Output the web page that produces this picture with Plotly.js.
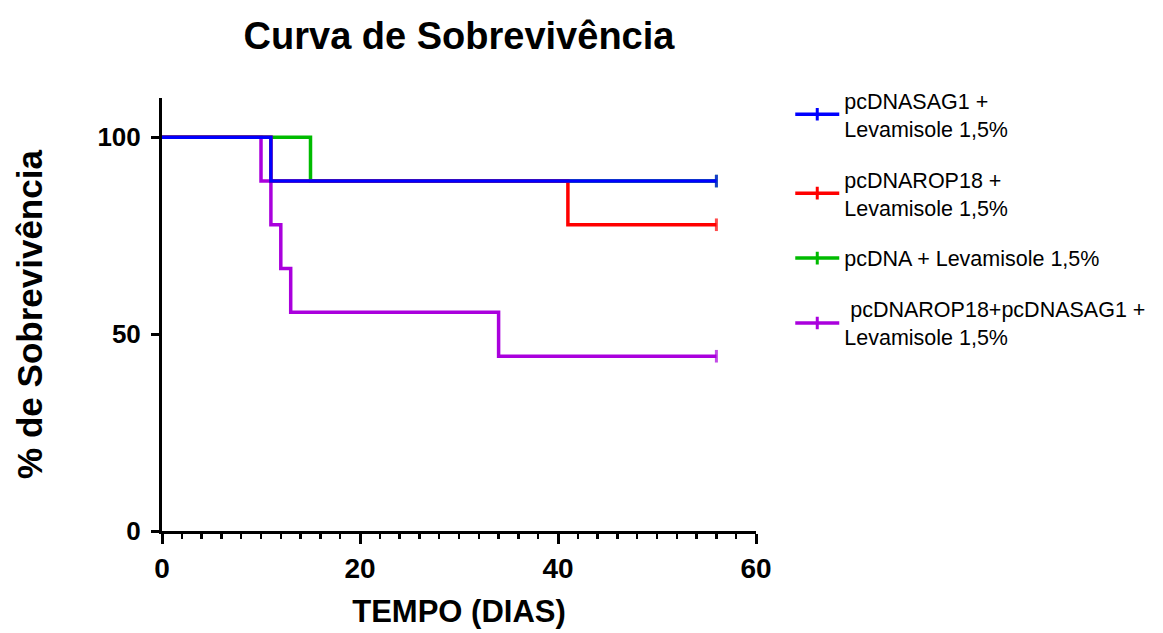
<!DOCTYPE html>
<html>
<head>
<meta charset="utf-8">
<script src="https://cdn.plot.ly/plotly-3.0.1.min.js"></script>
<style>html,body{margin:0;padding:0;background:#fff;}#chart{width:1163px;height:633px;}</style>
</head>
<body>
<div id="chart"></div>
<script>
// Kaplan-Meier step data (days, % survival)
const seriesNames = ["pcDNASAG1 +<br>Levamisole 1,5%", "pcDNAROP18 +<br>Levamisole 1,5%", "pcDNA + Levamisole 1,5%", " pcDNAROP18+pcDNASAG1 +<br>Levamisole 1,5%"];
const seriesColors = ["#0000ff", "#ff0000", "#00bb00", "#aa00dd"];
const sag1Days = [0, 11, 56];
const sag1Surv = [100, 88.9, 88.9];
const rop18Days = [0, 11, 41, 56];
const rop18Surv = [100, 88.9, 77.8, 77.8];
const pcdnaDays = [0, 15, 56];
const pcdnaSurv = [100, 88.9, 88.9];
const comboDays = [0, 10, 11, 12, 13, 34, 56];
const comboSurv = [100, 88.9, 77.8, 66.7, 55.6, 44.4, 44.4];
const xTicks = [0, 20, 40, 60];
const yTicks = [0, 50, 100];

const dataSets = [
  {x: comboDays, y: comboSurv, i: 3},
  {x: pcdnaDays, y: pcdnaSurv, i: 2},
  {x: rop18Days, y: rop18Surv, i: 1},
  {x: sag1Days, y: sag1Surv, i: 0}
];

const traces = [];
dataSets.forEach(d => {
  const c = seriesColors[d.i];
  traces.push({
    x: d.x, y: d.y,
    name: seriesNames[d.i],
    showlegend: false,
    mode: 'lines+markers',
    line: {shape: 'hv', color: c, width: 3.5},
    marker: {
      symbol: 'line-ns',
      size: d.x.map((v, k) => k === d.x.length - 1 ? 9 : 0),
      color: c,
      line: {color: c, width: 3}
    },
    hoverinfo: 'x+y'
  });
});
// legend entries (line with censor tick)
[0, 1, 2, 3].forEach(i => {
  const c = seriesColors[i];
  traces.push({
    x: [null], y: [null],
    name: seriesNames[i],
    legendrank: i + 1,
    legendgroup: 'g' + i,
    mode: 'lines+markers',
    line: {color: c, width: 3.5},
    marker: {symbol: 'line-ns', size: 9, color: c, line: {color: c, width: 3}}
  });
});

const layout = {
  width: 1163, height: 633,
  paper_bgcolor: '#fff', plot_bgcolor: '#fff',
  margin: {l: 162, r: 407, t: 98, b: 102, autoexpand: false},
  font: {family: 'Liberation Sans, Arial, sans-serif', color: '#000'},
  title: {
    text: '<b>Curva de Sobrevivência</b>',
    font: {size: 38, color: '#000'},
    x: 0.5, xref: 'paper', xanchor: 'center',
    y: 0.943, yref: 'container', yanchor: 'middle'
  },
  xaxis: {
    range: [0, 60],
    tickvals: xTicks,
    ticktext: xTicks.map(v => '<b>' + v + '</b>'),
    ticks: 'outside', ticklen: 10, tickwidth: 3, tickcolor: '#000',
    minor: {dtick: 2, ticks: 'outside', ticklen: 5, tickwidth: 2.5, tickcolor: '#000'},
    showline: true, linecolor: '#000', linewidth: 3,
    showgrid: false, zeroline: false,
    tickfont: {size: 28, color: '#000'},
    title: {text: '<b>TEMPO (DIAS)</b>', font: {size: 31, color: '#000'}, standoff: 18}
  },
  yaxis: {
    range: [0, 110],
    tickvals: yTicks,
    ticktext: yTicks.map(v => '<b>' + v + '</b>'),
    ticks: 'outside', ticklen: 8, tickwidth: 3, tickcolor: '#000',
    ticklabelstandoff: 5,
    showline: true, linecolor: '#000', linewidth: 3,
    showgrid: false, zeroline: false,
    tickfont: {size: 26, color: '#000'},
    title: {text: '<b>% de Sobrevivência</b>', font: {size: 35, color: '#000'}, standoff: 45}
  },
  legend: {
    xref: 'container', x: 0.6795, xanchor: 'left', y: 1.042, yanchor: 'top',
    font: {size: 21.5, color: '#000'},
    tracegroupgap: 20,
    itemwidth: 44,
    valign: 'middle',
    bgcolor: 'rgba(0,0,0,0)'
  },
  showlegend: true
};

Plotly.newPlot('chart', traces, layout, {displayModeBar: false, staticPlot: true});
</script>
</body>
</html>
